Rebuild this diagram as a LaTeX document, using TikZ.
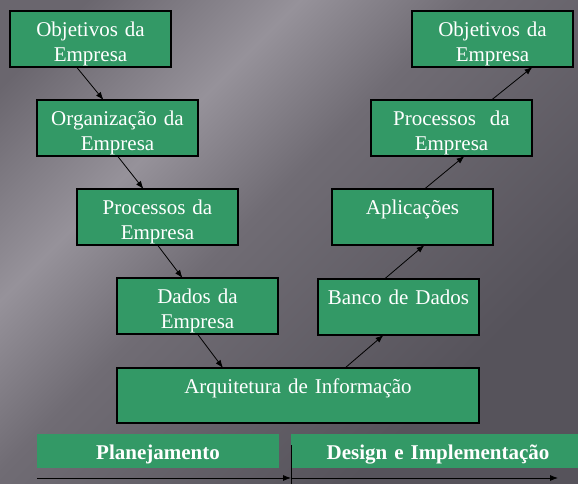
\documentclass[tikz,border=0pt]{standalone}
\usepackage{fontspec}
\setmainfont{Liberation Serif}
\usetikzlibrary{arrows.meta, positioning, calc}

\definecolor{verde}{RGB}{51,153,102}
\definecolor{fundoA}{RGB}{106,102,110}
\definecolor{fundoB}{RGB}{150,146,154}
\definecolor{fundoM}{RGB}{112,108,116}
\definecolor{fundoC}{RGB}{86,83,91}
\pgfdeclarehorizontalshading{fundo}{100bp}{color(0bp)=(fundoA); color(40bp)=(fundoA);
    color(50bp)=(fundoB); color(58bp)=(fundoM); color(75bp)=(fundoC); color(100bp)=(fundoC)}

\begin{document}
\begin{tikzpicture}[x=1pt,y=1pt,
    caixa/.style={draw=black, line width=1.2pt, fill=verde, text=white, align=center,
        text width=161pt, inner sep=0pt, outer sep=0pt, text height=25pt, text depth=31pt,
        font=\fontsize{21}{25}\selectfont},
    faixa/.style={fill=verde, text=white, align=center, inner sep=0pt, outer sep=0pt,
        text height=25pt, text depth=9pt, font=\fontsize{21}{25}\selectfont\bfseries},
    seta/.style={-{Latex[length=8pt,width=6pt]}, black, line width=0.8pt}]

    % fundo
    \useasboundingbox (0,0) rectangle (578,-483);
    \shade[shading=fundo, shading angle=-45] (-460,0) rectangle (578,-483);

    % planejamento (lado esquerdo)
    \node[caixa, anchor=north west] (objA) at (10,-11) {Objetivos da\\Empresa};
    \node[caixa, below right=33pt and 27pt of objA.south west] (orgA) {Organização da\\Empresa};
    \node[caixa, below right=33pt and 40pt of orgA.south west] (procA) {Processos da\\Empresa};
    \node[caixa, below right=33pt and 40pt of procA.south west] (dados) {Dados da\\Empresa};
    \node[caixa, text width=362pt, text depth=30pt, below right=34pt and 0pt of dados.south west] (arq) {Arquitetura de Informação};

    % implementacao (lado direito)
    \node[caixa, right=241pt of objA] (objB) {Objetivos da\\Empresa};
    \node[caixa, below left=33pt and 41pt of objB.south east] (procB) {Processos~~da\\Empresa};
    \node[caixa, below left=33pt and 39pt of procB.south east] (aplic) {Aplicações};
    \node[caixa, below left=34pt and 14pt of aplic.south east] (banco) {Banco de Dados};

    \draw[seta] ([xshift=-14pt]objA.south) -- ([xshift=-14pt]orgA.north);
    \draw[seta] (orgA.south) -- ([xshift=-14pt]procA.north);
    \draw[seta] (procA.south) -- ([xshift=-15pt]dados.north);
    \draw[seta] (dados.south) -- ([xshift=-75pt]arq.north);
    \draw[seta] ([xshift=47pt]arq.north) -- ([xshift=-15pt]banco.south);
    \draw[seta] ([xshift=-14pt]banco.north) -- ([xshift=12pt]aplic.south);
    \draw[seta] ([xshift=12pt]aplic.north) -- ([xshift=13pt]procB.south);
    \draw[seta] ([xshift=40pt]procB.north) -- ([xshift=40pt]objB.south);

    % fases
    \node[faixa, text width=242pt, below=11pt of arq.south west, anchor=north west, xshift=-80pt] (plan) {Planejamento};
    \node[faixa, text width=294pt, right=12pt of plan] (design) {Design e Implementação};

    \coordinate[below=10pt of plan.south west] (eixo0);
    \coordinate (eixo1) at (eixo0 -| design.west);
    \coordinate[right=267pt of eixo1] (eixo2);
    \coordinate[above=6pt of design.west] (marca0);
    \coordinate[below=8pt of eixo1] (marca1);
    \draw[seta] (eixo0) -- (eixo1);
    \draw[seta] (eixo1) -- (eixo2);
    \draw[line width=0.8pt] (marca0) -- (marca1);
\end{tikzpicture}
\end{document}
